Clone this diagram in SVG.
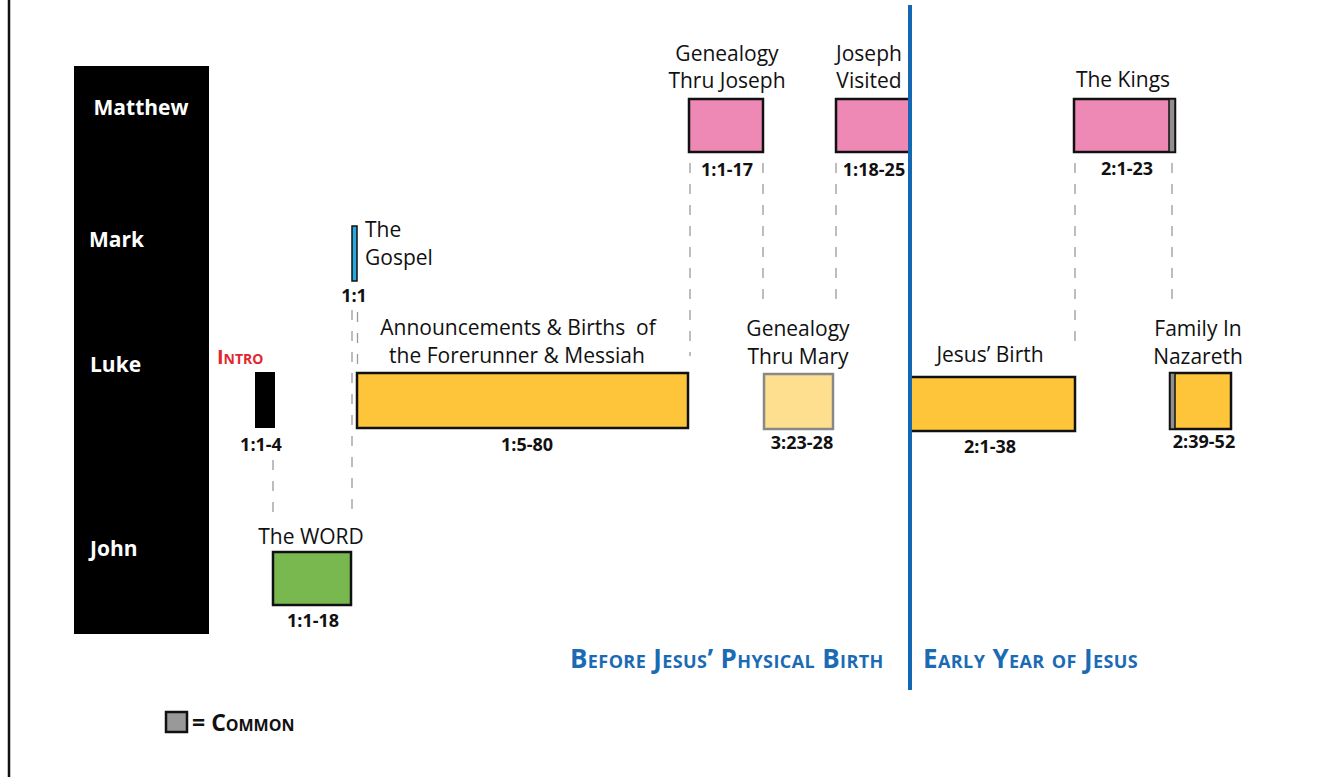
<svg xmlns="http://www.w3.org/2000/svg" width="1326" height="777" viewBox="0 0 1326 777">
<style>
text{font-family:"Open Sans","Noto Sans","Liberation Sans",sans-serif;fill:#111}
.row{font-size:21px;font-weight:bold;fill:#fff}
.lbl{font-size:21px;text-anchor:middle}
.ref{font-size:18px;font-weight:bold;text-anchor:middle}
.box{stroke:#111;stroke-width:2.5}
.pink{fill:#ED89B4}
.yel{fill:#FEC53A}
.dash{stroke:#9a9a9a;stroke-width:1.3;stroke-dasharray:10 11;fill:none}
.sc{font-variant:small-caps;font-weight:bold}
.era{font-size:26px;letter-spacing:0.4px;fill:#1A6BB4}
</style>
<rect width="1326" height="777" fill="#fff"/>
<line x1="9" y1="0" x2="9" y2="777" stroke="#111" stroke-width="2.5"/>

<g id="gospels">
<rect x="74" y="66" width="135" height="568" fill="#000"/>
<text class="row" x="141" y="115" text-anchor="middle">Matthew</text>
<text class="row" x="89" y="247">Mark</text>
<text class="row" x="90" y="372">Luke</text>
<text class="row" x="90" y="556">John</text>
</g>

<g id="connectors">
<line class="dash" x1="352" y1="310" x2="352" y2="516"/>
<line class="dash" x1="357.5" y1="312" x2="357.5" y2="372"/>
<line class="dash" x1="273" y1="460" x2="273" y2="516"/>
<line class="dash" x1="690" y1="163" x2="690" y2="356"/>
<line class="dash" x1="763" y1="163" x2="763" y2="308"/>
<line class="dash" x1="836" y1="163" x2="836" y2="308"/>
<line class="dash" x1="1075" y1="163" x2="1075" y2="346"/>
<line class="dash" x1="1172" y1="163" x2="1172" y2="304"/>
</g>

<g id="mt-genealogy">
<text class="lbl" x="727" y="61">Genealogy</text>
<text class="lbl" x="727" y="88">Thru Joseph</text>
<rect class="box pink" x="689" y="99" width="74" height="53"/>
<text class="ref" x="727" y="176">1:1-17</text>
</g>

<g id="mt-joseph">
<text class="lbl" x="869" y="61">Joseph</text>
<text class="lbl" x="869" y="88">Visited</text>
<rect class="box pink" x="836" y="99" width="74" height="53"/>
<text class="ref" x="874" y="176">1:18-25</text>
</g>

<g id="mt-kings">
<text class="lbl" x="1123" y="87">The Kings</text>
<rect class="box pink" x="1074" y="99" width="101" height="53"/>
<rect x="1169" y="99" width="6" height="53" fill="#8f8f8f" stroke="#111" stroke-width="1.5"/>
<text class="ref" x="1127" y="175">2:1-23</text>
</g>

<g id="mk-gospel">
<rect x="352" y="226" width="5" height="55" fill="#29A9E0" stroke="#111" stroke-width="1.5"/>
<text x="365" y="237" style="font-size:21px">The</text>
<text x="365" y="265" style="font-size:21px">Gospel</text>
<text class="ref" x="354" y="302">1:1</text>
</g>

<g id="lk-intro">
<text class="sc" x="217" y="364" style="font-size:20px;fill:#E3262E">Intro</text>
<rect x="255" y="372" width="20" height="56" fill="#000"/>
<text class="ref" x="261" y="451">1:1-4</text>
</g>

<g id="lk-announce">
<text class="lbl" x="518" y="335" xml:space="preserve">Announcements &amp; Births  of</text>
<text class="lbl" x="517" y="363">the Forerunner &amp; Messiah</text>
<rect class="box yel" x="357" y="373" width="331" height="55"/>
<text class="ref" x="527" y="451">1:5-80</text>
</g>

<g id="lk-genealogy">
<text class="lbl" x="798" y="336">Genealogy</text>
<text class="lbl" x="798" y="364">Thru Mary</text>
<rect x="764" y="374" width="69" height="55" fill="#FEDF8F" stroke="#888" stroke-width="2.5"/>
<text class="ref" x="802" y="449">3:23-28</text>
</g>

<g id="lk-birth">
<text class="lbl" x="990" y="362">Jesus’ Birth</text>
<rect class="box yel" x="910" y="377" width="165" height="54"/>
<text class="ref" x="990" y="453">2:1-38</text>
</g>

<g id="lk-nazareth">
<text class="lbl" x="1198" y="336">Family In</text>
<text class="lbl" x="1198" y="364">Nazareth</text>
<rect class="box yel" x="1170" y="373" width="61" height="56"/>
<rect x="1170" y="373" width="5" height="56" fill="#8f8f8f" stroke="#111" stroke-width="1.5"/>
<text class="ref" x="1204" y="448">2:39-52</text>
</g>

<g id="jn-word">
<text class="lbl" x="311" y="544">The WORD</text>
<rect class="box" x="273" y="552" width="78" height="53" fill="#78B84F"/>
<text class="ref" x="313" y="627">1:1-18</text>
</g>

<g id="divider">
<line x1="910" y1="5" x2="910" y2="690" stroke="#1468B3" stroke-width="4"/>
<text class="sc era" x="570" y="668">Before Jesus’ Physical Birth</text>
<text class="sc era" x="923" y="668">Early Year of Jesus</text>
</g>

<g id="legend">
<rect x="166" y="712" width="21" height="20" fill="#999" stroke="#111" stroke-width="2.5"/>
<text class="sc" x="192" y="731" style="font-size:23px">= Common</text>
</g>
</svg>
